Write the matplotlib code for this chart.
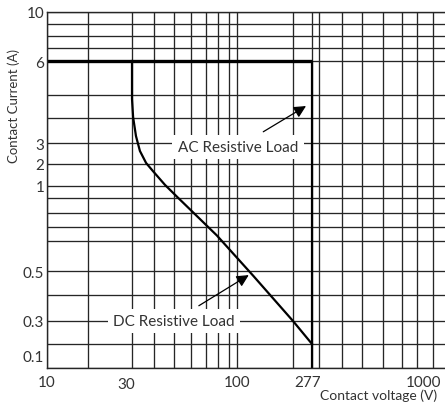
import matplotlib
matplotlib.use('Agg')
import matplotlib.pyplot as plt
import numpy as np
from matplotlib.transforms import ScaledTranslation

plt.rcParams['font.family'] = ['Lato', 'DejaVu Sans']

# 图表数据 - 触点电压/电流曲线
x_grid = [10, 20, 30, 40, 50, 60, 70, 80, 90, 100, 200, 277, 300, 400, 500, 600, 700, 800, 900, 1000]
y_grid = [0.1, 0.2, 0.3, 0.4, 0.5, 0.6, 0.7, 0.8, 0.9, 1, 2, 3, 4, 5, 6, 7, 8, 9, 10]

x_ticks = [10, 30, 100, 277, 1000]
x_tick_labels = ['10', '30', '100', '277', '1000']
y_ticks = [0.1, 0.3, 0.5, 1, 2, 3, 6, 10]
y_tick_labels = ['0.1', '0.3', '0.5', '1', '2', '3', '6', '10']

ac_voltage = [10, 277, 277]
ac_current = [6, 6, 0.1]

dc_voltage = [30, 30, 30.5, 31.8, 33.6, 36.4, 39.5, 45.5, 51.8, 79, 129, 200, 277]
dc_current = [6, 4.83, 4.04, 3.28, 2.62, 2.05, 1.68, 1.05, 0.91, 0.64, 0.48, 0.3, 0.2]

# 原图网格是手工间距, 用分段插值刻度还原 (像素距离)
X_GRID_PX = [0, 41, 85, 107, 127, 144, 159, 171, 182, 190, 246, 265, 272, 295, 315, 336, 355, 370, 386, 402]
Y_GRID_PX = [0, 24, 47, 73, 97, 127, 141, 155, 170, 182, 204, 225, 250, 273, 307, 320, 332, 344, 356]


def x_fwd(v):
    return np.interp(v, x_grid, X_GRID_PX)


def x_inv(p):
    return np.interp(p, X_GRID_PX, x_grid)


def y_fwd(v):
    return np.interp(v, y_grid, Y_GRID_PX)


def y_inv(p):
    return np.interp(p, Y_GRID_PX, y_grid)


DPI = 100
fig = plt.figure(figsize=(4.45, 4.10), dpi=DPI)
ax = fig.add_axes([47 / 445, 41 / 410, 402 / 445, 356 / 410])

ax.set_xscale('function', functions=(x_fwd, x_inv))
ax.set_yscale('function', functions=(y_fwd, y_inv))
ax.set_xlim(10, 1000)
ax.set_ylim(0.1, 10)

grid_color = '#262626'
ax.set_xticks(x_grid, minor=True)
ax.set_yticks(y_grid, minor=True)
ax.set_xticks(x_ticks, x_tick_labels)
ax.set_yticks(y_ticks, y_tick_labels)
ax.grid(True, which='both', color=grid_color, linewidth=0.95)
ax.set_axisbelow(True)
ax.tick_params(which='both', length=0)
ax.tick_params(axis='x', pad=5, labelsize=11, labelcolor='#333333')
ax.tick_params(axis='y', pad=2, labelsize=11, labelcolor='#333333')

for sp in ax.spines.values():
    sp.set_color(grid_color)
    sp.set_linewidth(1.0)

# AC 曲线: 水平段更粗
ax.plot(ac_voltage[:2], ac_current[:2], color='black', linewidth=2.4, solid_capstyle='butt')
ax.plot(ac_voltage[1:], ac_current[1:], color='black', linewidth=1.6, solid_capstyle='butt')
# DC 曲线
ax.plot(dc_voltage, dc_current, color='black', linewidth=1.6)

box = dict(boxstyle='square,pad=0.35', fc='white', ec='none')
arrow = dict(arrowstyle='-|>,head_length=0.6,head_width=0.3', color='black',
             linewidth=0.9, mutation_scale=12, shrinkA=4, shrinkB=0)
ax.annotate('AC Resistive Load', xy=(252.7, 4.52), xytext=(101.8, 2.81),
            ha='center', va='center', fontsize=11, color='#333333',
            bbox=box, arrowprops=arrow)
ax.annotate('DC Resistive Load', xy=(121, 0.483), xytext=(50, 0.3),
            ha='center', va='center', fontsize=11, color='#333333',
            bbox=box, arrowprops=arrow)

ax.set_ylabel('Contact Current (A)', fontsize=9.5, color='#333333')
ax.yaxis.set_label_coords(-0.067, 0.74)
ax.set_xlabel('Contact voltage (V)', fontsize=10, color='#333333', ha='right')
ax.xaxis.set_label_coords(0.970, -0.057)


def nudge(label, dx, dy):
    # 像素偏移
    label.set_transform(label.get_transform() +
                        ScaledTranslation(dx / DPI, dy / DPI, fig.dpi_scale_trans))


xt = ax.xaxis.get_major_ticks()
yt = ax.yaxis.get_major_ticks()
nudge(xt[1].label1, -6, -2)
nudge(xt[3].label1, -4, 0)
nudge(xt[4].label1, -25, 0)
nudge(yt[0].label1, 0, 12)

plt.savefig('out.png', dpi=DPI)
plt.close()
